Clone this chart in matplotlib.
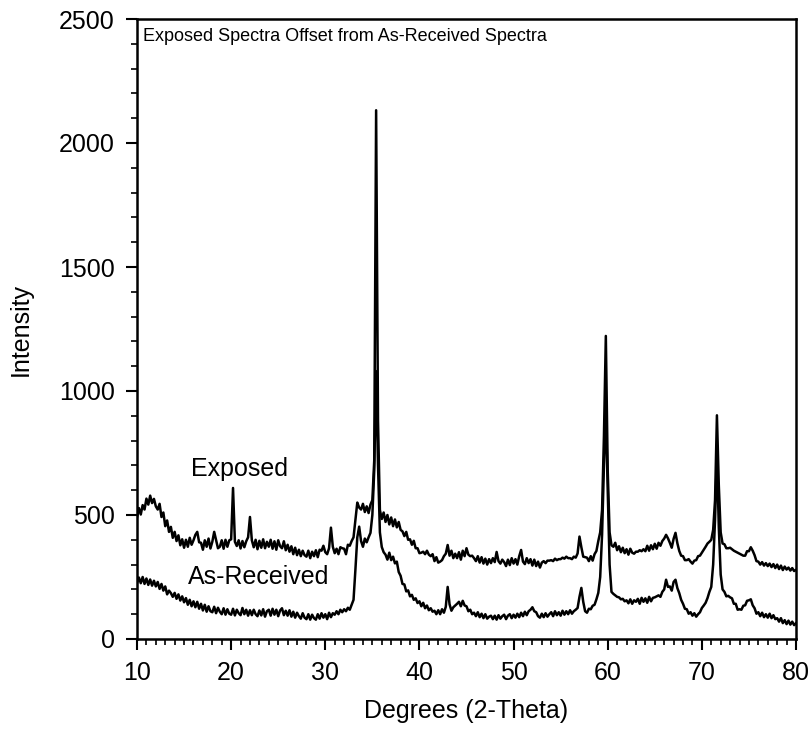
import numpy as np
import matplotlib
matplotlib.use("Agg")
import matplotlib.pyplot as plt
from matplotlib.ticker import MultipleLocator

# 2-theta grid, 0.2 degree steps from 10 to 80
two_theta = np.round(np.arange(10.0, 80.01, 0.2), 1)

# Exposed spectrum (offset), 10 values per row = 2 degrees
exposed = [
    490, 528, 502, 540, 522, 566, 542, 578, 548, 565,   # 10
    535, 522, 545, 492, 510, 455, 478, 432, 452, 408,   # 12
    432, 395, 418, 378, 402, 368, 400, 372, 408, 380,   # 14
    398, 420, 432, 390, 388, 360, 398, 372, 405, 365,   # 16
    392, 432, 398, 366, 372, 398, 364, 400, 372, 398,   # 18
    402, 609, 392, 375, 398, 365, 395, 370, 394, 410,   # 20
    492, 398, 370, 400, 362, 396, 368, 402, 366, 392,   # 22
    372, 400, 364, 394, 360, 398, 374, 366, 394, 358,   # 24
    380, 352, 374, 342, 368, 338, 360, 334, 356, 338,   # 26
    332, 356, 326, 352, 334, 358, 330, 360, 356, 376,   # 28
    350, 342, 366, 449, 372, 346, 364, 342, 370, 366,   # 30
    364, 342, 380, 376, 395, 410, 480, 550, 530, 522,   # 32
    545, 512, 535, 508, 542, 560, 720, 2132, 880, 520,  # 34
    484, 510, 472, 500, 462, 490, 455, 482, 450, 472,   # 36
    440, 434, 415, 432, 400, 402, 380, 396, 366, 366,   # 38
    346, 348, 352, 342, 356, 340, 334, 342, 314, 330,   # 40
    308, 312, 318, 334, 344, 379, 336, 356, 326, 344,   # 42
    326, 350, 320, 356, 334, 366, 340, 334, 336, 326,   # 44
    314, 334, 308, 330, 304, 324, 300, 322, 306, 326,   # 46
    310, 351, 314, 304, 320, 310, 294, 320, 298, 326,   # 48
    304, 322, 300, 334, 359, 312, 302, 326, 306, 322,   # 50
    296, 320, 294, 312, 288, 308, 314, 306, 316, 316,   # 52
    318, 314, 324, 318, 322, 322, 328, 324, 332, 326,   # 54
    326, 322, 332, 328, 345, 413, 370, 332, 330, 328,   # 56
    314, 334, 316, 342, 355, 395, 430, 520, 820, 1222,  # 58
    680, 430, 378, 372, 388, 358, 374, 350, 368, 346,   # 60
    362, 340, 364, 348, 344, 352, 352, 358, 354, 362,   # 62
    354, 376, 356, 378, 362, 384, 364, 388, 376, 395,   # 64
    405, 420, 406, 388, 368, 404, 428, 386, 355, 336,   # 66
    334, 318, 318, 322, 312, 304, 316, 318, 334, 336,   # 68
    348, 360, 372, 385, 392, 400, 440, 560, 902, 620,   # 70
    430, 385, 382, 366, 366, 368, 362, 356, 352, 348,   # 72
    344, 340, 336, 336, 354, 354, 370, 356, 338, 314,   # 74
    312, 300, 310, 296, 306, 294, 304, 290, 302, 286,   # 76
    300, 282, 296, 278, 292, 280, 288, 276, 286, 274,   # 78
    279,
]

# As-received spectrum
as_received = [
    226, 248, 225, 250, 222, 244, 218, 240, 215, 235,   # 10
    212, 230, 202, 222, 195, 212, 180, 195, 185, 170,   # 12
    186, 162, 180, 155, 172, 148, 165, 138, 158, 132,   # 14
    152, 128, 150, 122, 142, 115, 138, 110, 132, 112,   # 16
    108, 130, 104, 126, 110, 100, 124, 98, 120, 102,    # 18
    98, 122, 95, 118, 104, 96, 125, 100, 118, 94,       # 20
    116, 96, 118, 100, 92, 115, 95, 120, 90, 112,       # 22
    118, 94, 122, 98, 118, 92, 115, 124, 96, 114,       # 24
    94, 116, 90, 110, 86, 106, 92, 82, 104, 86,         # 26
    80, 100, 78, 98, 84, 78, 100, 82, 104, 86,          # 28
    100, 80, 106, 88, 104, 98, 112, 100, 118, 108,      # 30
    120, 112, 126, 118, 138, 158, 280, 410, 453, 395,   # 32
    372, 405, 390, 410, 428, 500, 680, 1080, 700, 430,  # 34
    371, 350, 340, 320, 348, 318, 332, 305, 312, 270,   # 36
    255, 222, 220, 192, 196, 172, 178, 158, 164, 145,   # 38
    152, 132, 146, 124, 135, 116, 124, 110, 114, 100,   # 40
    116, 100, 120, 106, 130, 210, 140, 114, 128, 135,   # 42
    142, 150, 132, 154, 135, 132, 112, 118, 100, 106,   # 44
    92, 108, 88, 102, 84, 100, 82, 90, 94, 80,          # 46
    94, 78, 96, 82, 92, 98, 80, 94, 100, 84,            # 48
    98, 86, 102, 88, 106, 92, 110, 96, 112, 118,        # 50
    128, 112, 108, 92, 86, 102, 88, 104, 90, 100,       # 52
    108, 92, 112, 96, 108, 94, 114, 98, 112, 100,       # 54
    116, 102, 112, 118, 125, 170, 206, 150, 112, 106,   # 56
    122, 120, 134, 138, 160, 186, 250, 420, 700, 930,   # 58
    600, 300, 190, 182, 176, 170, 168, 160, 162, 152,   # 60
    156, 144, 160, 142, 156, 150, 162, 142, 166, 150,   # 62
    164, 146, 170, 152, 166, 168, 172, 176, 170, 190,   # 64
    200, 239, 210, 212, 195, 230, 239, 205, 185, 158,   # 66
    142, 122, 120, 102, 108, 94, 104, 90, 100, 108,     # 68
    125, 135, 146, 165, 190, 210, 300, 480, 740, 450,   # 70
    260, 200, 190, 172, 174, 168, 164, 142, 142, 118,   # 72
    120, 118, 134, 136, 154, 156, 160, 136, 124, 102,   # 74
    108, 92, 106, 88, 100, 86, 102, 84, 96, 80,         # 76
    84, 70, 84, 64, 76, 60, 74, 58, 70, 56,             # 78
    64,
]

plt.rcParams['font.family'] = ['Liberation Sans', 'DejaVu Sans']

fig = plt.figure(figsize=(8.12, 7.36), dpi=100)
ax = fig.add_axes([137 / 812, 97 / 736, 659 / 812, 620 / 736])

ax.plot(two_theta, exposed, color='black', lw=1.8)
ax.plot(two_theta, as_received, color='black', lw=1.8)

ax.set_xlim(10, 80)
ax.set_ylim(0, 2500)
ax.xaxis.set_major_locator(MultipleLocator(10))
ax.xaxis.set_minor_locator(MultipleLocator(1))
ax.yaxis.set_major_locator(MultipleLocator(500))
ax.yaxis.set_minor_locator(MultipleLocator(100))
ax.tick_params(which='major', direction='out', length=8, width=1.5, labelsize=18, pad=8)
ax.tick_params(which='minor', direction='out', length=4, width=1.2)
for s in ax.spines.values():
    s.set_linewidth(1.8)

ax.set_xlabel('Degrees (2-Theta)', fontsize=18, labelpad=10)
ax.set_ylabel('Intensity', fontsize=18, labelpad=19)

ax.text(0.009, 0.985, 'Exposed Spectra Offset from As-Received Spectra',
        transform=ax.transAxes, ha='left', va='top', fontsize=13)
ax.text(20.9, 685, 'Exposed', fontsize=18, ha='center', va='center')
ax.text(22.9, 250, 'As-Received', fontsize=18, ha='center', va='center')

fig.savefig('out.png', dpi=100)
